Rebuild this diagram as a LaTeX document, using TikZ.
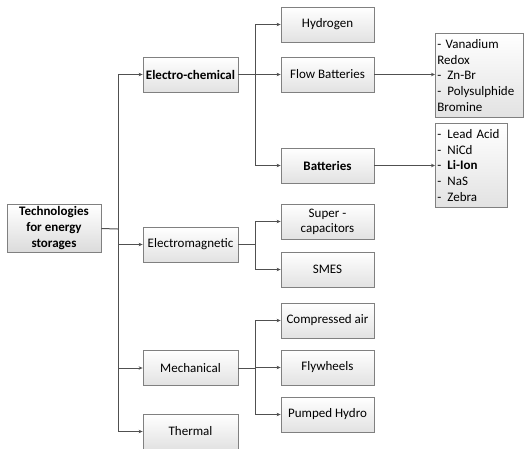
\documentclass[tikz,border=0pt]{standalone}
\usepackage{fontspec}
\setmainfont{Carlito}
\usetikzlibrary{arrows.meta}
\definecolor{boxline}{HTML}{808080}
\definecolor{boxbot}{HTML}{E2E2E2}
\definecolor{linec}{HTML}{505050}
\tikzset{
  box/.style={draw=boxline, line width=0.8pt, top color=white, bottom color=boxbot,
    minimum width=95pt, minimum height=35pt, inner sep=2pt, align=center,
    font=\fontsize{13}{15}\selectfont},
  rootbox/.style={box, minimum width=94pt, minimum height=47pt, bottom color=gray!28,
    font=\fontsize{13}{16}\selectfont\bfseries},
  leaf/.style={box, minimum width=93pt},
  listbox/.style={draw=boxline, line width=0.8pt, top color=white, bottom color=boxbot,
    anchor=north west, inner sep=2pt, align=left, minimum height=84pt,
    font=\fontsize{13}{15.6}\selectfont},
  conn/.style={draw=linec, line width=1pt},
  arr/.style={draw=linec, line width=0.7pt, -{Stealth[length=4pt,width=3.5pt]}}
}
\newcommand{\dsh}{\makebox[10pt][l]{-}}
\begin{document}
\begin{tikzpicture}[x=1pt,y=-1pt]
\useasboundingbox (0,0) rectangle (524,448);
\clip (0,0) rectangle (524,448);
% nodes
\node[rootbox] (root) at (54,228.5) {Technologies\\for energy\\storages};
\node[box, font=\fontsize{13}{15}\selectfont\bfseries] (ec) at (190.5,74.5) {Electro-chemical};
\node[box] (em) at (190.5,244.5) {Electromagnetic};
\node[box] (me) at (190.5,368) {Mechanical};
\node[box] (th) at (190.5,431.5) {Thermal};
\node[leaf] (hy) at (327.5,24.5) {Hydrogen};
\node[leaf] (fb) at (327.5,74.5) {Flow Batteries};
\node[leaf, font=\fontsize{13}{15}\selectfont\bfseries] (ba) at (327.5,165.5) {Batteries};
\node[leaf] (sc) at (327.5,221.5) {Super -\\capacitors};
\node[leaf] (sm) at (327.5,269.5) {SMES};
\node[leaf] (ca) at (327.5,320.5) {Compressed air};
\node[leaf] (fw) at (327.5,367.5) {Flywheels};
\node[leaf] (ph) at (327.5,414.5) {Pumped Hydro};
\node[listbox, text width=84pt] (fl) at (435,33) {- Vanadium\\Redox\\\dsh Zn-Br\\\dsh Polysulphide\\Bromine};
\node[listbox, text width=68pt] (bl) at (435,123) {\dsh Lead Acid\\\dsh NiCd\\\dsh\textbf{Li-Ion}\\\dsh NaS\\\dsh Zebra};
% trunk coordinates
\coordinate (t) at (118,229);
\coordinate (s) at (255,0);
% main trunk
\draw[conn] (root.east) -- (t);
\draw[conn] (ec.west -| t) -- (th.west -| t);
\foreach \n in {ec,em,me,th}{\draw[arr] (\n.west -| t) -- (\n.west);}
% electro-chemical branch
\draw[conn] (ec.east) -- (ec.east -| s);
\draw[conn] (hy.west -| s) -- (ba.west -| s);
\foreach \n in {hy,fb,ba}{\draw[arr] (\n.west -| s) -- (\n.west);}
% electromagnetic branch
\draw[conn] (em.east) -- (em.east -| s);
\draw[conn] (sc.west -| s) -- (sm.west -| s);
\foreach \n in {sc,sm}{\draw[arr] (\n.west -| s) -- (\n.west);}
% mechanical branch
\draw[conn] (me.east) -- (me.east -| s);
\draw[conn] (ca.west -| s) -- (ph.west -| s);
\foreach \n in {ca,fw,ph}{\draw[arr] (\n.west -| s) -- (\n.west);}
% lists
\draw[arr] (fb.east) -- (fb.east -| fl.west);
\draw[arr] (ba.east) -- (ba.east -| bl.west);
\end{tikzpicture}
\end{document}
